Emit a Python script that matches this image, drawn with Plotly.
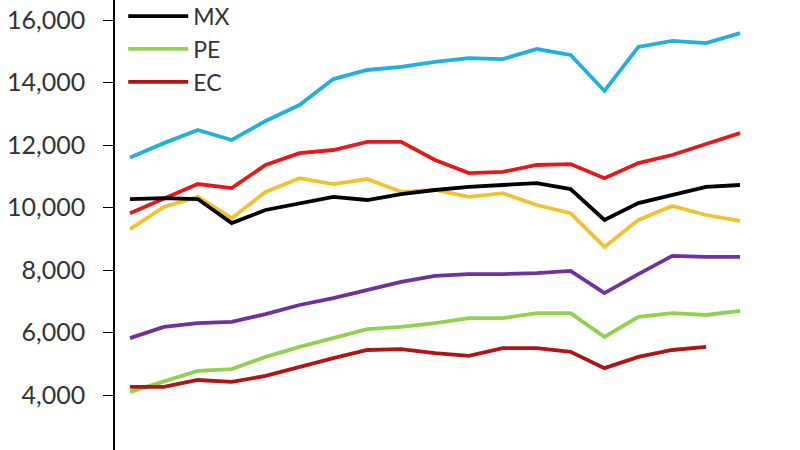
import plotly.graph_objects as go

periods = list(range(19))

light_blue = [11600, 12060, 12480, 12160, 12770, 13280, 14110, 14400, 14500, 14660,
              14780, 14750, 15070, 14880, 13730, 15140, 15330, 15260, 15580]
red = [9820, 10270, 10750, 10620, 11360, 11740, 11840, 12100, 12100, 11520,
       11100, 11140, 11360, 11390, 10940, 11420, 11680, 12030, 12380]
yellow = [9310, 10020, 10340, 9660, 10500, 10940, 10750, 10910, 10500, 10560,
          10340, 10460, 10080, 9820, 8740, 9600, 10050, 9760, 9570]
mx = [10270, 10300, 10270, 9500, 9920, 10140, 10340, 10240, 10430, 10560,
      10660, 10720, 10780, 10590, 9600, 10140, 10400, 10660, 10720]
purple = [5820, 6180, 6300, 6340, 6590, 6880, 7100, 7360, 7620, 7810,
          7870, 7870, 7900, 7970, 7260, 7870, 8450, 8420, 8420]
pe = [4100, 4420, 4770, 4830, 5220, 5540, 5820, 6110, 6180, 6300,
      6460, 6460, 6620, 6620, 5860, 6500, 6620, 6560, 6690]
ec = [4260, 4260, 4480, 4420, 4610, 4900, 5180, 5440, 5470, 5340,
      5250, 5500, 5500, 5380, 4860, 5220, 5440, 5540]

ytick_vals = [2000, 4000, 6000, 8000, 10000, 12000, 14000, 16000]
ytick_text = ["2,000", "4,000", "6,000", "8,000", "10,000", "12,000", "14,000", "16,000"]

FONT = "Lato"
LW = 3.8

fig = go.Figure()
fig.add_trace(go.Scatter(x=periods, y=light_blue, mode="lines", name="S1",
                         line=dict(color="#1fb0e0", width=LW), showlegend=False))
fig.add_trace(go.Scatter(x=periods, y=red, mode="lines", name="S2",
                         line=dict(color="#e3191c", width=LW), showlegend=False))
fig.add_trace(go.Scatter(x=periods, y=yellow, mode="lines", name="S3",
                         line=dict(color="#f2c12e", width=LW), showlegend=False))
fig.add_trace(go.Scatter(x=periods, y=purple, mode="lines", name="S4",
                         line=dict(color="#7030a0", width=LW), showlegend=False))
fig.add_trace(go.Scatter(x=periods, y=pe, mode="lines", name="PE",
                         line=dict(color="#92d050", width=LW), legendrank=2))
fig.add_trace(go.Scatter(x=periods[:len(ec)], y=ec, mode="lines", name="EC",
                         line=dict(color="#b01515", width=LW), legendrank=3))
fig.add_trace(go.Scatter(x=periods, y=mx, mode="lines", name="MX",
                         line=dict(color="#000000", width=LW), legendrank=1))

fig.update_layout(
    width=800, height=450,
    margin=dict(l=115, r=0, t=0, b=0, autoexpand=False),
    paper_bgcolor="white", plot_bgcolor="white",
    font=dict(family=FONT, size=25, color="#333333"),
    showlegend=True,
    legend=dict(x=0.012, y=1.012, xanchor="left", yanchor="top",
                bgcolor="rgba(0,0,0,0)", font=dict(family=FONT, size=23, color="#333333"),
                itemwidth=60, tracegroupgap=0),
    xaxis=dict(range=[-0.443, 19.77], showgrid=False, zeroline=False,
               showline=False, showticklabels=False, ticks=""),
    yaxis=dict(range=[2240, 16640], tickvals=ytick_vals, ticktext=ytick_text,
               showgrid=False, zeroline=False, showline=True, linecolor="#000000",
               linewidth=1.5, ticks="outside", ticklen=10, tickcolor="#000000",
               tickwidth=1.3, ticklabelstandoff=13,
               tickfont=dict(family=FONT, size=25, color="#333333")),
)

fig.write_html("out.html")
